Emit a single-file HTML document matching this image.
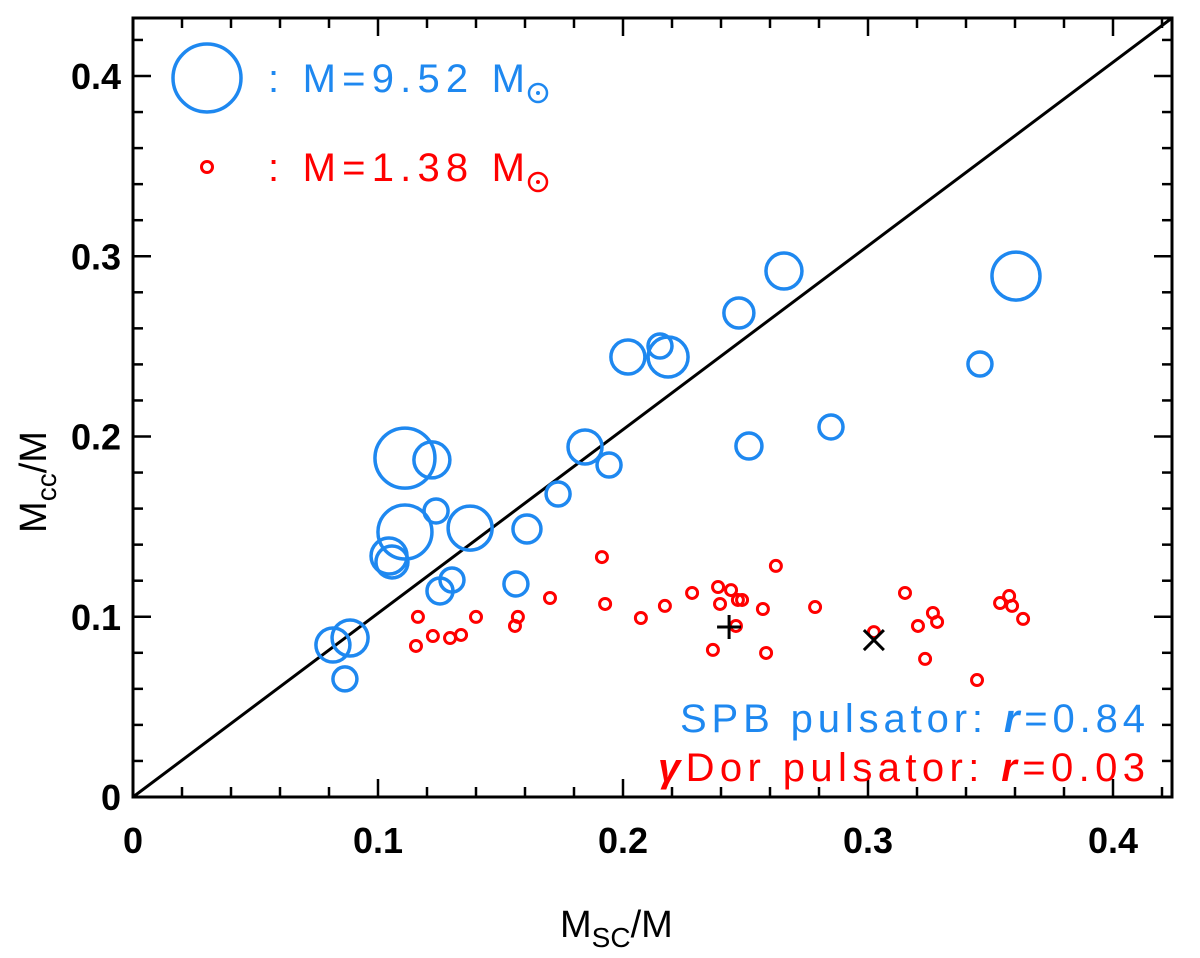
<!DOCTYPE html>
<html><head><meta charset="utf-8"><style>
html,body{margin:0;padding:0;background:#fff;}
svg{display:block;font-family:"Liberation Sans",sans-serif;}
</style></head><body>
<svg id="chart" width="1200" height="958" viewBox="0 0 1200 958" xmlns="http://www.w3.org/2000/svg">
<g id="plot"></g>
</svg>
<script>
const spbX=[0.0816,0.0886,0.0865,0.1045,0.1057,0.111,0.111,0.122,0.1237,0.1253,0.1302,0.1376,0.1563,0.1608,0.1735,0.1845,0.1943,0.202,0.2151,0.2184,0.2473,0.2657,0.2514,0.2849,0.3457,0.3604];
const spbY=[0.0843,0.0882,0.0655,0.1337,0.1304,0.147,0.188,0.187,0.1587,0.1143,0.1204,0.1492,0.1182,0.1487,0.1681,0.1942,0.1842,0.2441,0.2502,0.2441,0.2685,0.2918,0.1947,0.2053,0.2402,0.289];
const spbR=[17,18,12,18,16,27,30,18,12,13,12,22,12,14,12,17,12,17,12,20,15,18,13,12,12,24];
const gdX=[0.1163,0.1155,0.1224,0.1294,0.1339,0.14,0.1559,0.1571,0.1702,0.1914,0.1927,0.2073,0.2171,0.2282,0.2367,0.2388,0.2396,0.2441,0.2461,0.2469,0.2486,0.2571,0.2584,0.2624,0.2784,0.3024,0.3151,0.3204,0.3233,0.3265,0.3282,0.3445,0.3539,0.3576,0.3588,0.3633];
const gdY=[0.0999,0.0838,0.0893,0.0882,0.0899,0.0999,0.0949,0.0999,0.1104,0.1331,0.1071,0.0993,0.106,0.1132,0.0816,0.1165,0.1071,0.1148,0.0949,0.1093,0.1093,0.1043,0.0799,0.1282,0.1054,0.0915,0.1132,0.0949,0.0766,0.1021,0.0971,0.0649,0.1076,0.1115,0.106,0.0988];
const plusPt=[0.2433,0.0943];
const crossPt=[0.3024,0.0871];
const xTicks=[0,0.1,0.2,0.3,0.4];
const xTickLabels=["0","0.1","0.2","0.3","0.4"];
const yTicks=[0,0.1,0.2,0.3,0.4];
const yTickLabels=["0","0.1","0.2","0.3","0.4"];

const L=133,R=1172,T=18,B=797;
const sx=v=>L+v*2450;
const sy=v=>B-v*1802.5;
const NS="http://www.w3.org/2000/svg";
const g=document.getElementById('plot');
function mk(tag,attrs,parent){const e=document.createElementNS(NS,tag);for(const k in attrs)e.setAttribute(k,attrs[k]);(parent||g).appendChild(e);return e;}

let fr=mk('rect',{x:L,y:T,width:R-L,height:B-T,fill:'none',stroke:'#000','stroke-width':3});


for(let i=0;i<=21;i++){
  const v=i*0.02;const major=(i%5===0);const len=major?18:10;
  const x=sx(v);
  if(x<=R){
    let t1=mk('line',{x1:x,y1:B,x2:x,y2:B-len,stroke:'#000','stroke-width':2.5});
    
    
    let t2=mk('line',{x1:x,y1:T,x2:x,y2:T+len,stroke:'#000','stroke-width':2.5});
    
    
  }
  const y=sy(v);
  if(y>=T){
    let t3=mk('line',{x1:L,y1:y,x2:L+len,y2:y,stroke:'#000','stroke-width':2.5});
    
    
    let t4=mk('line',{x1:R,y1:y,x2:R-len,y2:y,stroke:'#000','stroke-width':2.5});
    
    
  }
}
xTicks.forEach((v,i)=>{
  let t=mk('text',{x:sx(v),y:853,'font-size':36,'font-weight':'bold','text-anchor':'middle'});
  t.textContent=xTickLabels[i];
  
  
});
yTicks.forEach((v,i)=>{
  let t=mk('text',{x:121,y:sy(v)+13,'font-size':36,'font-weight':'bold','text-anchor':'end'});
  t.textContent=yTickLabels[i];
  
  
});
let dg=mk('line',{x1:sx(0),y1:sy(0),x2:R,y2:T,stroke:'#000','stroke-width':3});


spbX.forEach((v,i)=>{
  let c=mk('circle',{cx:sx(v),cy:sy(spbY[i]),r:spbR[i],fill:'none',stroke:'#1e88f0','stroke-width':3.5});
  
  
});
gdX.forEach((v,i)=>{
  let c=mk('circle',{cx:sx(v),cy:sy(gdY[i]),r:5.5,fill:'none',stroke:'#f00','stroke-width':3});
  
  
});
{
  const px=sx(plusPt[0]),py=sy(plusPt[1]);
  let p=mk('path',{d:`M${px-12},${py}H${px+12}M${px},${py-12}V${py+12}`,stroke:'#000','stroke-width':3});
  
  
  const cx=sx(crossPt[0]),cy=sy(crossPt[1]);
  let q=mk('path',{d:`M${cx-10},${cy-10}L${cx+10},${cy+10}M${cx-10},${cy+10}L${cx+10},${cy-10}`,stroke:'#000','stroke-width':3});
  
  
}
</script>
<svg width="1200" height="958" style="position:absolute;left:0;top:0" xmlns="http://www.w3.org/2000/svg">
<g>
<circle cx="207" cy="78" r="34" fill="none" stroke="#1e88f0" stroke-width="3.5"/>
<text x="268" y="92" font-size="40" fill="#1e88f0" textLength="257" lengthAdjust="spacing">: M=9.52 M</text>
<circle cx="538" cy="93" r="9" fill="none" stroke="#1e88f0" stroke-width="2.5"/><circle cx="538" cy="93" r="2" fill="#1e88f0"/>
<circle cx="207" cy="167" r="5.5" fill="none" stroke="#f00" stroke-width="3"/>
<text x="268" y="181" font-size="40" fill="#f00" textLength="257" lengthAdjust="spacing">: M=1.38 M</text>
<circle cx="538" cy="182" r="9" fill="none" stroke="#f00" stroke-width="2.5"/><circle cx="538" cy="182" r="2" fill="#f00"/>
</g>
<text x="680" y="732" font-size="40" fill="#1e88f0" textLength="465" lengthAdjust="spacing">SPB pulsator: <tspan font-style="italic" font-weight="bold">r</tspan>=0.84</text>
<text x="658" y="781" font-size="40" fill="#f00" textLength="487" lengthAdjust="spacing"><tspan font-style="italic" font-weight="bold">γ</tspan>Dor pulsator: <tspan font-style="italic" font-weight="bold">r</tspan>=0.03</text>
<text x="560" y="937" font-size="38">M<tspan font-size="28" dy="10">SC</tspan><tspan dy="-10">/M</tspan></text>
<text transform="translate(46,482) rotate(-90)" font-size="38" text-anchor="middle">M<tspan font-size="28" dy="10">cc</tspan><tspan dy="-10">/M</tspan></text>
</svg>
</body></html>
